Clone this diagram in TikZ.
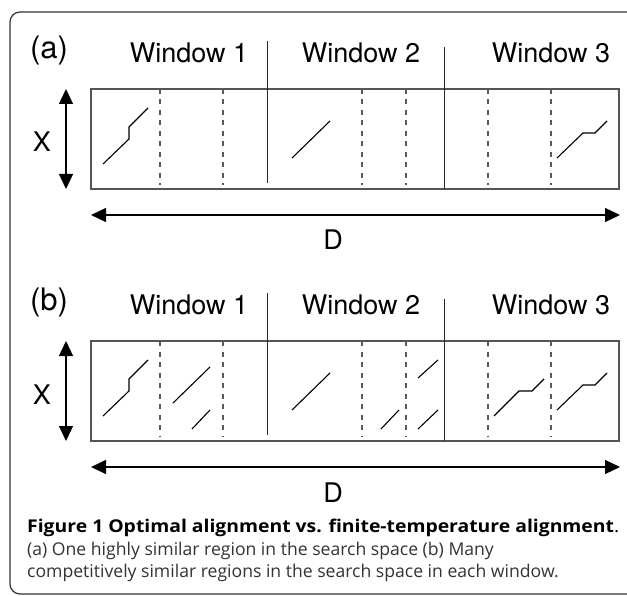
\documentclass[tikz,border=0pt]{standalone}
\usepackage{fontspec}
\setmainfont{TeX Gyre Heros}
\newfontfamily\capfont{Open Sans}
\usetikzlibrary{arrows.meta}
\definecolor{boxgray}{HTML}{555555}
\definecolor{dashgray}{HTML}{5A5A5A}
\definecolor{capgray}{HTML}{333333}
\newcommand\panelbody[1]{%
  \node[labeltext] (lab) at (49,58.5) {(#1)};
  \node[wintext] (w1) at (189,63) {Window 1};
  \node[wintext] (w2) at (361,63) {Window 2};
  \node[wintext] (w3) at (551,63) {Window 3};
  \node[axtext] (x) at (42,152) {X};
  \node[axtext] (d) at (333,250) {D};
  \draw[boxline] (91,89) rectangle (619,189);
  \coordinate (div1t) at (267,41); \coordinate (div1b) at (267,183);
  \coordinate (div2t) at (444,47); \coordinate (div2b) at (444,189);
  \draw[divline] (div1t) -- (div1b);
  \draw[divline] (div2t) -- (div2b);
  \foreach \xx in {160,223,362,406,488,551} \draw[dashline] (\xx,89) -- (\xx,185);
  \coordinate (xt) at (66,89); \coordinate (xb) at (66,189);
  \draw[dimarrow] (xt) -- (xb);
  \coordinate (dl) at (91,215); \coordinate (dr) at (620,215);
  \draw[dimarrow] (dl) -- (dr);
  \draw[pathline] (103,164) -- (129,139) -- (129,127) -- (148,108);
  \draw[pathline] (292,158) -- (330,121);
  \draw[pathline] (557,158) -- (583,133) -- (595,133) -- (607,121);
}
\begin{document}
\begin{tikzpicture}[x=1pt,y=-1pt,
  labeltext/.style={font=\fontsize{31}{34}\selectfont, inner sep=0pt, anchor=base},
  wintext/.style={font=\fontsize{27}{30}\selectfont, inner sep=0pt, anchor=base},
  axtext/.style={font=\fontsize{27}{30}\selectfont, inner sep=0pt, anchor=base},
  boxline/.style={draw=boxgray, line width=1.1pt},
  divline/.style={draw=black!85, line width=1pt},
  dashline/.style={draw=dashgray, line width=1.1pt, dash pattern=on 5pt off 5.5pt},
  dimarrow/.style={draw=black, line width=1.3pt, {Triangle[length=15pt,width=14pt]}-{Triangle[length=15pt,width=14pt]}},
  pathline/.style={draw=black, line width=1.1pt, line join=miter},
  captext/.style={font=\capfont\fontsize{17.6}{20}\selectfont, inner sep=0pt, anchor=base west},
  ]
\useasboundingbox (0,0) rectangle (627,596);
\fill[white] (0,0) rectangle (627,596);
\draw[draw=black!80, line width=1.2pt, rounded corners=10pt] (660,12) -- (10,12) -- (10,594) -- (660,594);
\begin{scope}[name prefix=a-]
  \panelbody{a}
\end{scope}
\begin{scope}[shift={(0,252)}, name prefix=b-]
  \panelbody{b}
  \draw[pathline] (173,151) -- (210,115);
  \draw[pathline] (192,177) -- (210,158);
  \draw[pathline] (381,177) -- (399,158);
  \draw[pathline] (418,126) -- (438,108);
  \draw[pathline] (418,177) -- (438,158);
  \draw[pathline] (494,164) -- (519,139) -- (532,139) -- (544,127);
\end{scope}
\node[captext] (cap1) at (27,532) {\scalebox{1.1}[1]{\textbf{Figure 1 Optimal alignment vs. finite-temperature alignment}.}};
\node[captext, text=capgray] (cap2) at (27,555) {(a) One highly similar region in the search space (b) Many};
\node[captext, text=capgray] (cap3) at (27,577) {competitively similar regions in the search space in each window.};
\end{tikzpicture}
\end{document}
